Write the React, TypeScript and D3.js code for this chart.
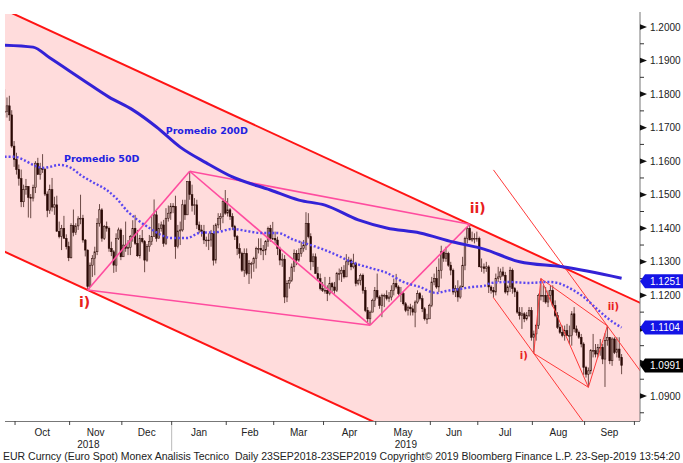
import React from 'react';
import * as d3 from 'd3';

// EUR/USD daily, 24-Sep-2018 .. 23-Sep-2019 (one entry per weekday)
const firstOpen = 1.1745;

const highs = [
  1.1815, 1.1790, 1.1795, 1.1752, 1.1660,
  1.1625, 1.1590, 1.1575, 1.1530, 1.1547, 1.1518, 1.1502, 1.1530, 1.1600, 1.1610, 1.1595, 1.1621, 1.1580, 1.1510, 1.1530, 1.1550, 1.1494, 1.1497, 1.1420, 1.1410, 1.1437, 1.1382, 1.1360,
  1.1415, 1.1456, 1.1415, 1.1436, 1.1500, 1.1440, 1.1368, 1.1337, 1.1298, 1.1320, 1.1345, 1.1430, 1.1472, 1.1460, 1.1410, 1.1420, 1.1405, 1.1360, 1.1335, 1.1385, 1.1402, 1.1400,
  1.1380, 1.1420, 1.1365, 1.1380, 1.1424, 1.1440, 1.1395, 1.1380, 1.1395, 1.1365, 1.1353, 1.1380, 1.1440, 1.1486, 1.1452, 1.1415, 1.1420, 1.1425, 1.1460, 1.1468, 1.1475,
  1.1475, 1.1497, 1.1410, 1.1420, 1.1485, 1.1485, 1.1540, 1.1570, 1.1530, 1.1490, 1.1485, 1.1420, 1.1410, 1.1410, 1.1375, 1.1385, 1.1395, 1.1410, 1.1415, 1.1445, 1.1445, 1.1490, 1.1514,
  1.1490, 1.1460, 1.1445, 1.1410, 1.1380, 1.1355, 1.1330, 1.1340, 1.1340, 1.1305, 1.1300, 1.1315, 1.1345, 1.1370, 1.1370, 1.1350, 1.1365, 1.1405, 1.1410, 1.1419,
  1.1390, 1.1375, 1.1345, 1.1325, 1.1320, 1.1245, 1.1255, 1.1295, 1.1337, 1.1335, 1.1340, 1.1360, 1.1365, 1.1448, 1.1445, 1.1385, 1.1325, 1.1325, 1.1285, 1.1265, 1.1240,
  1.1255, 1.1230, 1.1255, 1.1240, 1.1240, 1.1270, 1.1280, 1.1285, 1.1290, 1.1323, 1.1315, 1.1310, 1.1324, 1.1300, 1.1250, 1.1265, 1.1265, 1.1225, 1.1165, 1.1155, 1.1190, 1.1225,
  1.1265, 1.1200, 1.1205, 1.1205, 1.1215, 1.1210, 1.1230, 1.1250, 1.1264, 1.1230, 1.1225, 1.1210, 1.1180, 1.1170, 1.1175, 1.1170, 1.1185, 1.1215, 1.1210, 1.1200, 1.1165, 1.1145, 1.1175,
  1.1255, 1.1265, 1.1285, 1.1310, 1.1348, 1.1335, 1.1345, 1.1330, 1.1300, 1.1280, 1.1230, 1.1245, 1.1230, 1.1315, 1.1375, 1.1405, 1.1412, 1.1390, 1.1385, 1.1390,
  1.1375, 1.1310, 1.1295, 1.1300, 1.1290, 1.1230, 1.1225, 1.1265, 1.1285, 1.1280, 1.1285, 1.1270, 1.1230, 1.1285, 1.1280, 1.1225, 1.1215, 1.1165, 1.1165, 1.1150, 1.1150, 1.1165, 1.1165,
  1.1095, 1.1115, 1.1205, 1.1250, 1.1230, 1.1225, 1.1215, 1.1230, 1.1230, 1.1185, 1.1150, 1.1115, 1.1110, 1.1110, 1.1115, 1.1110, 1.1153, 1.1165, 1.1110, 1.1095, 1.1085, 1.1060,
  1.0990, 1.0985, 1.1040, 1.1085, 1.1055, 1.1055, 1.1070, 1.1055, 1.1087, 1.1109, 1.1075, 1.1075, 1.1075, 1.1075, 1.1075, 1.1025,
];

const lows = [
  1.1730, 1.1730, 1.1720, 1.1640, 1.1583,
  1.1560, 1.1527, 1.1463, 1.1463, 1.1500, 1.1432, 1.1430, 1.1480, 1.1505, 1.1560, 1.1545, 1.1565, 1.1496, 1.1433, 1.1443, 1.1450, 1.1440, 1.1390, 1.1370, 1.1335, 1.1370, 1.1337, 1.1302,
  1.1310, 1.1376, 1.1380, 1.1395, 1.1412, 1.1357, 1.1316, 1.1216, 1.1228, 1.1255, 1.1260, 1.1320, 1.1405, 1.1360, 1.1365, 1.1390, 1.1330, 1.1317, 1.1267, 1.1270, 1.1365, 1.1305,
  1.1320, 1.1330, 1.1320, 1.1320, 1.1360, 1.1350, 1.1315, 1.1310, 1.1355, 1.1269, 1.1300, 1.1330, 1.1350, 1.1380, 1.1360, 1.1370, 1.1390, 1.1345, 1.1350, 1.1420, 1.1425,
  1.1445, 1.1309, 1.1340, 1.1350, 1.1390, 1.1425, 1.1440, 1.1485, 1.1450, 1.1440, 1.1398, 1.1385, 1.1375, 1.1353, 1.1345, 1.1335, 1.1345, 1.1289, 1.1295, 1.1400, 1.1395, 1.1415, 1.1440,
  1.1435, 1.1425, 1.1395, 1.1365, 1.1320, 1.1310, 1.1270, 1.1255, 1.1260, 1.1234, 1.1250, 1.1270, 1.1280, 1.1325, 1.1320, 1.1305, 1.1320, 1.1345, 1.1360, 1.1365,
  1.1355, 1.1320, 1.1290, 1.1285, 1.1177, 1.1180, 1.1220, 1.1240, 1.1270, 1.1290, 1.1300, 1.1315, 1.1330, 1.1335, 1.1370, 1.1275, 1.1285, 1.1265, 1.1245, 1.1215, 1.1210,
  1.1205, 1.1183, 1.1200, 1.1210, 1.1205, 1.1210, 1.1245, 1.1240, 1.1250, 1.1255, 1.1290, 1.1275, 1.1280, 1.1227, 1.1230, 1.1230, 1.1205, 1.1150, 1.1120, 1.1111, 1.1150, 1.1165,
  1.1190, 1.1160, 1.1135, 1.1165, 1.1185, 1.1180, 1.1185, 1.1200, 1.1220, 1.1200, 1.1180, 1.1170, 1.1150, 1.1140, 1.1140, 1.1140, 1.1105, 1.1175, 1.1185, 1.1150, 1.1125, 1.1115, 1.1135,
  1.1165, 1.1230, 1.1220, 1.1210, 1.1250, 1.1300, 1.1300, 1.1285, 1.1260, 1.1202, 1.1195, 1.1181, 1.1190, 1.1225, 1.1275, 1.1355, 1.1370, 1.1360, 1.1355, 1.1360,
  1.1285, 1.1270, 1.1265, 1.1270, 1.1207, 1.1205, 1.1193, 1.1200, 1.1240, 1.1245, 1.1255, 1.1205, 1.1200, 1.1210, 1.1205, 1.1195, 1.1145, 1.1128, 1.1100, 1.1120, 1.1125, 1.1135, 1.1065,
  1.1027, 1.1065, 1.1100, 1.1185, 1.1180, 1.1175, 1.1165, 1.1185, 1.1165, 1.1135, 1.1100, 1.1085, 1.1075, 1.1065, 1.1080, 1.1055, 1.1050, 1.1090, 1.1080, 1.1070, 1.1045, 1.0963,
  1.0955, 1.0926, 1.0965, 1.1015, 1.1015, 1.1015, 1.1020, 1.0995, 1.0927, 1.1050, 1.0995, 1.0990, 1.1025, 1.1015, 1.1005, 1.0965,
];

const closes = [
  1.1748, 1.1765, 1.1738, 1.1645, 1.1605,
  1.1575, 1.1548, 1.1479, 1.1515, 1.1525, 1.1492, 1.1490, 1.1522, 1.1594, 1.1560, 1.1579, 1.1575, 1.1502, 1.1453, 1.1515, 1.1463, 1.1470, 1.1391, 1.1375, 1.1400, 1.1370, 1.1345, 1.1312,
  1.1408, 1.1388, 1.1407, 1.1428, 1.1430, 1.1365, 1.1335, 1.1226, 1.1290, 1.1310, 1.1330, 1.1415, 1.1455, 1.1370, 1.1405, 1.1400, 1.1340, 1.1330, 1.1290, 1.1370, 1.1395, 1.1315,
  1.1350, 1.1340, 1.1343, 1.1375, 1.1400, 1.1355, 1.1318, 1.1370, 1.1360, 1.1305, 1.1345, 1.1360, 1.1375, 1.1440, 1.1370, 1.1400, 1.1410, 1.1355, 1.1430, 1.1445, 1.1466,
  1.1465, 1.1345, 1.1392, 1.1395, 1.1470, 1.1440, 1.1540, 1.1500, 1.1468, 1.1470, 1.1410, 1.1395, 1.1390, 1.1365, 1.1365, 1.1365, 1.1385, 1.1305, 1.1410, 1.1430, 1.1435, 1.1480, 1.1445,
  1.1455, 1.1435, 1.1405, 1.1375, 1.1340, 1.1325, 1.1275, 1.1325, 1.1265, 1.1295, 1.1295, 1.1310, 1.1340, 1.1340, 1.1335, 1.1335, 1.1360, 1.1400, 1.1370, 1.1370,
  1.1365, 1.1340, 1.1305, 1.1308, 1.1195, 1.1235, 1.1245, 1.1285, 1.1325, 1.1305, 1.1325, 1.1340, 1.1350, 1.1415, 1.1375, 1.1300, 1.1315, 1.1265, 1.1250, 1.1220, 1.1215,
  1.1215, 1.1205, 1.1235, 1.1225, 1.1215, 1.1265, 1.1265, 1.1275, 1.1255, 1.1300, 1.1305, 1.1285, 1.1295, 1.1235, 1.1245, 1.1260, 1.1215, 1.1155, 1.1130, 1.1150, 1.1185, 1.1215,
  1.1195, 1.1170, 1.1200, 1.1200, 1.1190, 1.1195, 1.1215, 1.1235, 1.1225, 1.1205, 1.1205, 1.1175, 1.1155, 1.1165, 1.1160, 1.1150, 1.1180, 1.1205, 1.1190, 1.1160, 1.1130, 1.1130, 1.1170,
  1.1240, 1.1250, 1.1225, 1.1275, 1.1330, 1.1310, 1.1325, 1.1290, 1.1275, 1.1210, 1.1220, 1.1195, 1.1225, 1.1290, 1.1370, 1.1400, 1.1365, 1.1370, 1.1370, 1.1370,
  1.1285, 1.1285, 1.1280, 1.1285, 1.1225, 1.1215, 1.1210, 1.1250, 1.1255, 1.1270, 1.1260, 1.1210, 1.1225, 1.1275, 1.1220, 1.1210, 1.1150, 1.1140, 1.1145, 1.1130, 1.1140, 1.1155, 1.1075,
  1.1085, 1.1110, 1.1200, 1.1200, 1.1200, 1.1180, 1.1200, 1.1215, 1.1170, 1.1140, 1.1105, 1.1090, 1.1080, 1.1095, 1.1080, 1.1080, 1.1145, 1.1100, 1.1090, 1.1075, 1.1055, 1.0985,
  1.0965, 1.0975, 1.1035, 1.1035, 1.1025, 1.1045, 1.1045, 1.1010, 1.1065, 1.1075, 1.1005, 1.1070, 1.1030, 1.1040, 1.1015, 1.0991,
];

// moving averages: [session, value]
const ma200 = [
  [0, 1.1946], [12, 1.1940], [19, 1.1908], [33, 1.1842], [44, 1.1791], [54, 1.1753], [64, 1.1702],
  [74, 1.1642], [85, 1.1595], [96, 1.1553], [112, 1.1514], [124, 1.1484], [135, 1.1469], [149, 1.1425],
  [161, 1.1401], [175, 1.1386], [189, 1.1359], [202, 1.1338], [217, 1.1300], [235, 1.1285], [260, 1.1251],
];

const ma50 = [
  [0, 1.1613], [4, 1.1613], [8, 1.1604], [12, 1.1589], [16, 1.1580], [19, 1.1583], [23, 1.1589], [28, 1.1580],
  [32, 1.1559], [37, 1.1538], [43, 1.1514], [47, 1.1490], [52, 1.1449], [56, 1.1425], [61, 1.1401], [66, 1.1380],
  [70, 1.1371], [77, 1.1371], [82, 1.1386], [90, 1.1389], [96, 1.1398], [102, 1.1392], [108, 1.1386], [115, 1.1386],
  [122, 1.1365], [129, 1.1350], [135, 1.1335], [140, 1.1320], [147, 1.1297], [154, 1.1282], [161, 1.1267],
  [168, 1.1240], [175, 1.1225], [182, 1.1207], [186, 1.1213], [192, 1.1219], [197, 1.1225], [202, 1.1228],
  [205, 1.1237], [212, 1.1240], [221, 1.1237], [229, 1.1240], [233, 1.1237], [238, 1.1222], [244, 1.1195],
  [250, 1.1157], [255, 1.1127], [260, 1.1104],
];

// trend channel anchors
const channelUpper = [[3.5, 1.2040], [196, 1.1412]];
const channelLower = [[35, 1.1216], [154, 1.0828]];

// large wave: i) low, Jan high, Apr low, ii) high
const bigWavePts = { i: [35, 1.1216], jan: [78, 1.1570], apr: [154, 1.1111], ii: [196, 1.1412] };
const bigWaveSegs = [['i', 'jan'], ['jan', 'ii'], ['jan', 'apr'], ['i', 'apr'], ['apr', 'ii']];

// small wave
const smallWavePts = { a: [206, 1.1574], p1: [206, 1.1193], p2: [223, 1.1027], p3: [226, 1.1250], p4: [246, 1.0926], p5: [254, 1.1109] };
const smallWaveSegs = [['p2', 'p3'], ['p3', 'p4'], ['p2', 'p4'], ['p4', 'p5'], ['p3', 'p5']];
const smallWaveRays = [['a', 'p5', 270], ['p1', 'p2', 250]];

const yTicks = [1.09, 1.10, 1.11, 1.12, 1.13, 1.14, 1.15, 1.16, 1.17, 1.18, 1.19, 1.20];
const lastTags = [
  { value: 1.1251, color: '#1414e6' },
  { value: 1.1104, color: '#1414e6' },
  { value: 1.0991, color: '#000000' },
];

const footer = 'EUR Curncy (Euro Spot) Monex Analisis Tecnico  Daily 23SEP2018-23SEP2019 Copyright\u00a9 2019 Bloomberg Finance L.P. 23-Sep-2019 13:54:20';

const W = 683;
const H = 463;
const PL = 5, PR = 640, PT = 14, PB = 421;

export default function App() {
  const x = d3.scaleLinear().domain([0, 260]).range([4.6, 621.6]);
  const y = d3.scaleLinear().domain([1.09, 1.2]).range([396, 27]);

  // weekday calendar
  const days: Date[] = [];
  for (const d = new Date(2018, 8, 24); days.length < 267; d.setDate(d.getDate() + 1)) {
    if (d.getDay() % 6 !== 0) days.push(new Date(d));
  }
  const monthStarts = days.map((d, i) => i).filter(i => i > 0 && days[i].getMonth() !== days[i - 1].getMonth());
  const tickX = (i: number) => x(i - 0.6);
  const fmtMonth = d3.timeFormat('%b');
  const jan = monthStarts.find(i => days[i].getMonth() === 0 && days[i].getFullYear() === 2019)!;

  const lineAt = (p: number[], q: number[], d: number) => p[1] + ((q[1] - p[1]) * (d - p[0])) / (q[0] - p[0]);
  const dLeft = x.invert(PL - 2);
  const dRight = x.invert(PR + 2);
  const upL = lineAt(channelUpper[0], channelUpper[1], dLeft);
  const upR = lineAt(channelUpper[0], channelUpper[1], dRight);
  const loL = lineAt(channelLower[0], channelLower[1], dLeft);
  const loR = lineAt(channelLower[0], channelLower[1], dRight);
  const fillPoly = [[dLeft, upL], [dRight, upR], [dRight, loR], [dLeft, loL]]
    .map(p => `${x(p[0])},${y(p[1])}`).join(' ');

  const line = d3.line<number[]>().x(d => x(d[0])).y(d => y(d[1])).curve(d3.curveMonotoneX);

  const font = '"Liberation Sans", Arial, sans-serif';
  const minorTicks = d3.range(1085, 1210, 10).map(v => v / 1000).filter(v => y(v) > PT && y(v) < PB);
  // tag position (Bloomberg pushes the top tag a little off the 1.1300 label)
  const tagY = (v: number, k: number) => y(v) + (k === 0 ? 3 : 0);
  const hiddenByTag = (v: number) => lastTags.some((t, k) => Math.abs(tagY(t.value, k) - y(v)) < 11);

  return (
    <div style={{ position: 'fixed', left: 0, top: 0 }}>
      <svg width={W} height={H} style={{ display: 'block', background: '#fff' }}>
        <defs>
          <clipPath id="plot">
            <rect x={PL} y={PT} width={PR - PL} height={PB - PT} />
          </clipPath>
        </defs>

        <g clipPath="url(#plot)">
          <polygon points={fillPoly} fill="#ffdcdc" />

          {/* candles */}
          {closes.map((c, i) => {
            const o = i === 0 ? firstOpen : closes[i - 1];
            const hi = Math.max(highs[i], o, c);
            const lo = Math.min(lows[i], o, c);
            const cx = x(i);
            const top = y(Math.max(o, c));
            const bh = Math.max(0.8, y(Math.min(o, c)) - top);
            return (
              <g key={i}>
                <line x1={cx} x2={cx} y1={y(hi)} y2={y(lo)} stroke="#5b3a35" strokeWidth={0.9} />
                <rect x={cx - 0.85} y={top} width={1.7} height={bh}
                  fill={c >= o ? '#b99893' : '#2a0905'} stroke="#2a0905" strokeWidth={0.5} />
              </g>
            );
          })}

          {/* channel */}
          <line x1={x(dLeft)} y1={y(upL)} x2={x(dRight)} y2={y(upR)} stroke="#ff1414" strokeWidth={2} />
          <line x1={x(dLeft)} y1={y(loL)} x2={x(dRight)} y2={y(loR)} stroke="#ff1414" strokeWidth={2} />

          {/* big wave */}
          {bigWaveSegs.map(([a, b], k) => {
            const p = (bigWavePts as any)[a], q = (bigWavePts as any)[b];
            return <line key={k} x1={x(p[0])} y1={y(p[1])} x2={x(q[0])} y2={y(q[1])} stroke="#ff4c9f" strokeWidth={1.6} />;
          })}

          {/* small wave */}
          {smallWaveSegs.map(([a, b], k) => {
            const p = (smallWavePts as any)[a], q = (smallWavePts as any)[b];
            return <line key={k} x1={x(p[0])} y1={y(p[1])} x2={x(q[0])} y2={y(q[1])} stroke="#ff3a3a" strokeWidth={1} />;
          })}
          {smallWaveRays.map(([a, b, end], k) => {
            const p = (smallWavePts as any)[a], q = (smallWavePts as any)[b];
            const e = lineAt(p, q, end as number);
            return <line key={k} x1={x(p[0])} y1={y(p[1])} x2={x(end as number)} y2={y(e)} stroke="#ff3a3a" strokeWidth={1} />;
          })}

          {/* moving averages */}
          <path d={line(ma200 as any)!} fill="none" stroke="#3322d6" strokeWidth={3} />
          <path d={line(ma50 as any)!} fill="none" stroke="#5a46f0" strokeWidth={2.4} strokeDasharray="2 2" />
        </g>

        {/* labels */}
        <text x={x(67.9)} y={y(1.1680)} fill="#2222e0" fontFamily='"DejaVu Sans", sans-serif' fontWeight="bold" fontSize={9.5}>Promedio 200D</text>
        <text x={x(25)} y={y(1.1597)} fill="#2222e0" fontFamily='"DejaVu Sans", sans-serif' fontWeight="bold" fontSize={9.5}>Promedio 50D</text>
        <text x={x(bigWavePts.i[0]) - 3} y={y(bigWavePts.i[1]) + 17} fill="#e8201c" fontFamily='"DejaVu Sans", sans-serif' fontWeight="bold" fontSize={14} textAnchor="middle">i)</text>
        <text x={x(bigWavePts.ii[0]) + 8} y={y(bigWavePts.ii[1]) - 11} fill="#e8201c" fontFamily='"DejaVu Sans", sans-serif' fontWeight="bold" fontSize={14} textAnchor="middle">ii)</text>
        <text x={x(smallWavePts.p2[0]) - 10} y={y(smallWavePts.p2[1]) + 6} fill="#e8201c" fontFamily='"DejaVu Sans", sans-serif' fontWeight="bold" fontSize={10} textAnchor="middle">i)</text>
        <text x={x(smallWavePts.p5[0]) + 6} y={y(smallWavePts.p5[1]) - 16} fill="#e8201c" fontFamily='"DejaVu Sans", sans-serif' fontWeight="bold" fontSize={10} textAnchor="middle">ii)</text>

        {/* right axis */}
        <line x1={PR} x2={PR} y1={PT - 2} y2={PB} stroke="#777" strokeWidth={1} />
        {minorTicks.map(v => (
          <line key={v} x1={PR} x2={PR + 4} y1={y(v)} y2={y(v)} stroke="#333" strokeWidth={1} />
        ))}
        {yTicks.map(v => (
          <g key={v}>
            <path d={`M${PR},${y(v) - 2.8}L${PR + 7},${y(v)}L${PR},${y(v) + 2.8}Z`} fill="#111" />
            {!hiddenByTag(v) && (
              <text x={PR + 10} y={y(v) + 3.6} fontFamily={font} fontSize={10} fill="#222">{v.toFixed(4)}</text>
            )}
          </g>
        ))}
        {lastTags.map((t, k) => {
          const ty = tagY(t.value, k);
          return (
            <g key={t.value}>
              <path d={`M${PR},${ty}L${PR + 5},${ty - 7}L${W},${ty - 7}L${W},${ty + 7}L${PR + 5},${ty + 7}Z`} fill={t.color} />
              <text x={PR + 10} y={ty + 3.6} fontFamily={font} fontSize={10} fill="#fff">{t.value.toFixed(4)}</text>
            </g>
          );
        })}

        {/* bottom axis */}
        <line x1={PL} x2={PR} y1={PB + 0.5} y2={PB + 0.5} stroke="#777" strokeWidth={1} />
        {monthStarts.map(i => (
          <line key={i} x1={tickX(i)} x2={tickX(i)} y1={PB} y2={PB + 4} stroke="#444" strokeWidth={1} />
        ))}
        {monthStarts.slice(0, -1).map((i, k) => (
          <text key={i} x={(tickX(i) + tickX(monthStarts[k + 1])) / 2} y={436} textAnchor="middle"
            fontFamily={font} fontSize={10} fill="#222">{fmtMonth(days[i])}</text>
        ))}
        <line x1={tickX(jan)} x2={tickX(jan)} y1={PB + 4} y2={451} stroke="#bbb" strokeWidth={1} />
        <text x={(PL + tickX(jan)) / 2} y={448} textAnchor="middle" fontFamily={font} fontSize={10} fill="#222">2018</text>
        <text x={(tickX(jan) + PR) / 2} y={448} textAnchor="middle" fontFamily={font} fontSize={10} fill="#222">2019</text>

        <text x={3} y={460} fontFamily={font} fontSize={10} fill="#222" textLength={677}
          lengthAdjust="spacingAndGlyphs" style={{ whiteSpace: 'pre' }}>{footer}</text>
      </svg>
    </div>
  );
}
